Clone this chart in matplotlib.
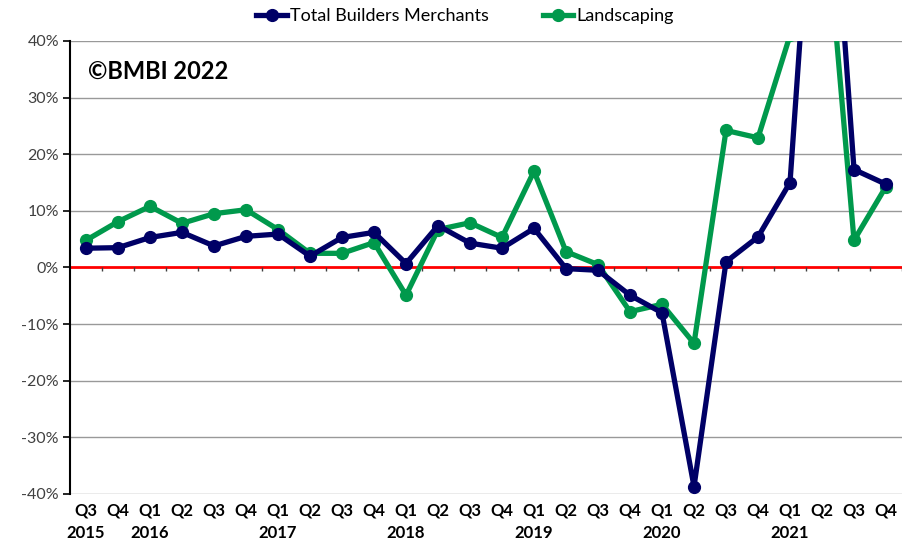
import numpy as np
import matplotlib
matplotlib.use('Agg')
import matplotlib.pyplot as plt
from matplotlib.ticker import FuncFormatter

plt.rcParams['font.family'] = ['Lato', 'DejaVu Sans']

# Quarterly data, Q3 2015 .. Q4 2021
quarters = ['Q3', 'Q4', 'Q1', 'Q2', 'Q3', 'Q4', 'Q1', 'Q2', 'Q3', 'Q4', 'Q1', 'Q2', 'Q3',
            'Q4', 'Q1', 'Q2', 'Q3', 'Q4', 'Q1', 'Q2', 'Q3', 'Q4', 'Q1', 'Q2', 'Q3', 'Q4']
years = ['2015', '2016', '2017', '2018', '2019', '2020', '2021']
year_pos = [0, 2, 6, 10, 14, 18, 22]

total_bm = [3.4, 3.5, 5.3, 6.2, 3.8, 5.5, 5.9, 2.0, 5.3, 6.2, 0.7, 7.4, 4.3,
            3.4, 6.9, -0.2, -0.5, -4.9, -8.0, -38.7, 1.0, 5.4, 15.0, 96.0, 17.3, 14.7]
landscaping = [4.8, 8.1, 10.8, 7.8, 9.5, 10.2, 6.7, 2.5, 2.5, 4.4, -4.9, 6.7, 7.9,
               5.3, 17.0, 2.8, 0.5, -7.8, -6.5, -13.4, 24.2, 22.9, 41.0, 70.0, 4.8, 14.3]

navy = '#000066'
green = '#00994c'

fig = plt.figure(figsize=(9.06, 5.42), dpi=100)
ax = fig.add_axes([0.0773, 0.0886, 0.9183, 0.8358])

x = np.arange(len(quarters))

# grid
for v in range(-40, 41, 10):
    if v != 0:
        ax.axhline(v, color='#999999', lw=1.0, zorder=1)

ax.plot(x, total_bm, color=navy, lw=3.8, marker='o', ms=8.5,
        label='Total Builders Merchants', zorder=4)
ax.plot(x, landscaping, color=green, lw=3.8, marker='o', ms=8.5,
        label='Landscaping', zorder=3)

# zero line with category tick marks
ax.axhline(0, color='#ff0000', lw=2.0, zorder=2)
ax.vlines(np.arange(len(quarters)) + 0.5, -0.7, 0, color='#404040', lw=1.0, zorder=2)

ax.set_xlim(-0.5, len(quarters) - 0.5)
ax.set_ylim(-40, 40)

ax.set_yticks(range(-40, 41, 10))
ax.yaxis.set_major_formatter(FuncFormatter(lambda v, _: f'{v:.0f}%'))
ax.tick_params(axis='y', labelsize=11.5, labelcolor='#404040', length=5,
               width=1.2, direction='out', pad=3)

ax.set_xticks(x)
ax.set_xticklabels(quarters, fontweight='bold', fontsize=12)
ax.tick_params(axis='x', length=0, pad=6)

for pos, yr in zip(year_pos, years):
    ax.text(pos, -0.068, yr, transform=ax.get_xaxis_transform(),
            ha='center', va='top', fontsize=12, fontweight='bold')

for side in ['top', 'right', 'bottom']:
    ax.spines[side].set_visible(False)
ax.spines['left'].set_linewidth(1.5)
ax.spines['left'].set_color('black')

ax.text(0.022, 0.932, '\u00a9BMBI 2022', transform=ax.transAxes,
        fontsize=17, fontweight='bold', ha='left', va='center')

fig.legend(loc='upper center', bbox_to_anchor=(0.513, 1.015), ncol=2, frameon=False,
           fontsize=13, handlelength=1.7, handletextpad=0.15, columnspacing=3.0)

fig.savefig('out.png', dpi=100)
